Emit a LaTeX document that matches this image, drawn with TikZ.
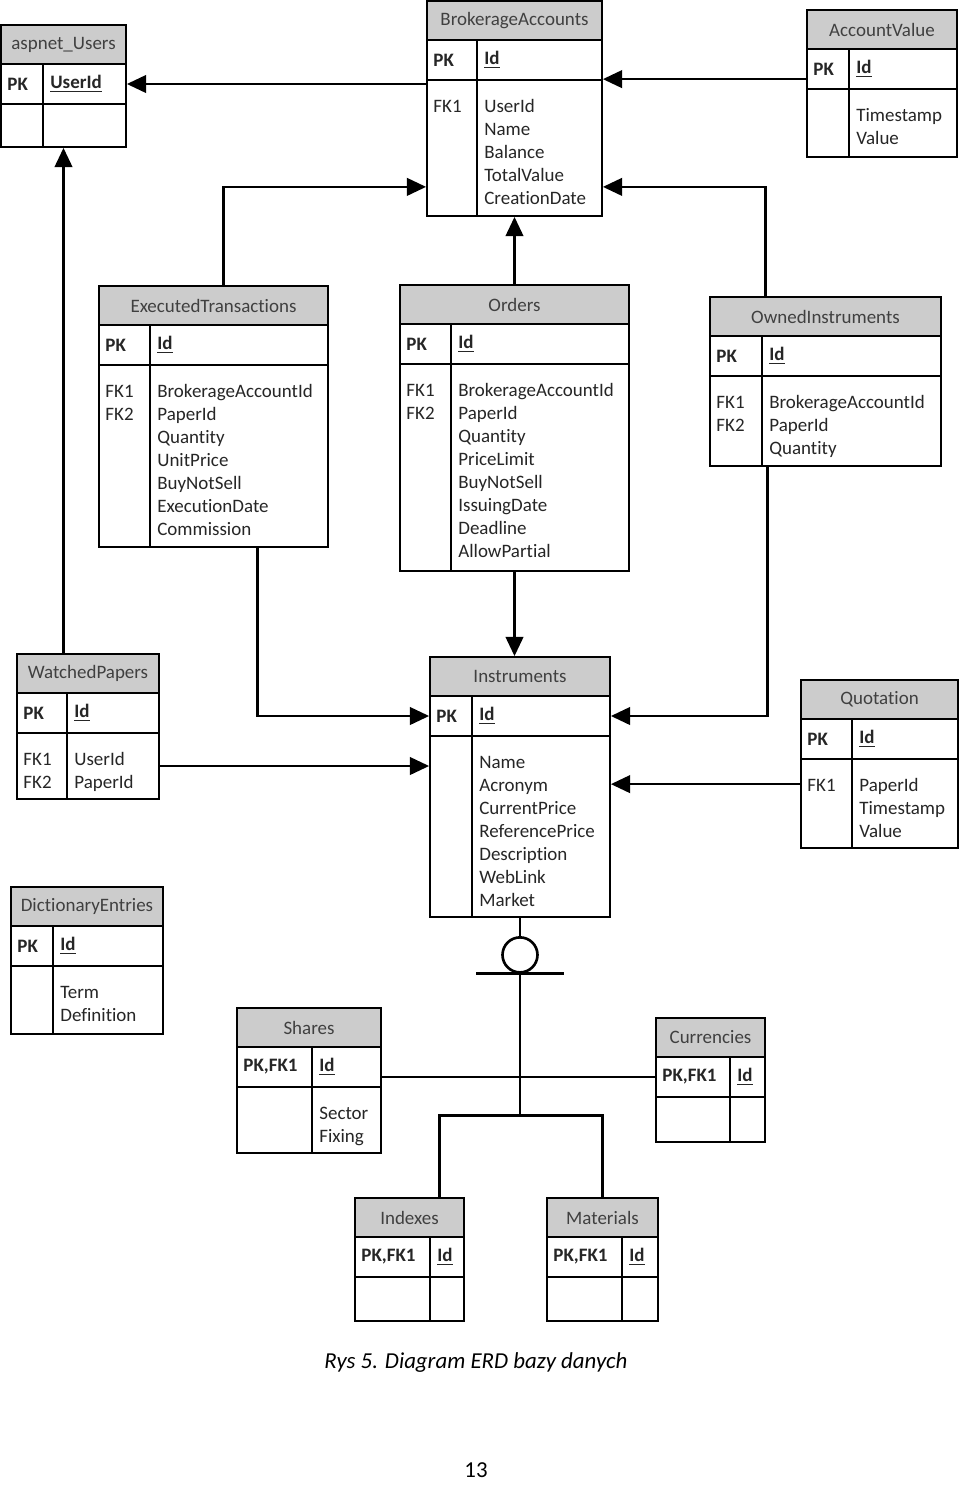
\documentclass[tikz,border=0pt]{standalone}
\usepackage{fontspec}
\setmainfont[Ligatures=NoCommon]{Carlito}
\usetikzlibrary{arrows.meta,fit,calc}

% table frame: name, x1, y1, x2, y2, column divider, title
\newcommand{\erdbox}[7]{%
  \node[tblhead, fit={(#2,#3) (#4,#3+39)}] (#1-h) {};
  \node[tbltitle] (#1-t) at (#1-h.center) {#7};
  \node[tblrow, fit={(#2,#3+39) (#4,#3+79)}] (#1-pk) {};
  \node[tblrow, fit={(#2,#3+79) (#4,#5)}] (#1-b) {};
  \node[tblrow, fit={(#2,#3) (#4,#5)}] (#1) {};
  \coordinate (#1-d) at (#6,#3+39);
  \draw[tblline] (#1-d) -- (#1-d |- #1.south);
}
% table texts: name, key column, key field, fk column, fields
\newcommand{\erdkeys}[5]{%
  \node[keytxt, anchor=west] (#1-pkl) at (#1-pk.west) {\textbf{#2}};
  \node[keytxt, anchor=west] (#1-pkf) at (#1-d |- #1-pk) {\textbf{\underline{#3}}};
  \node[fieldtxt, anchor=north west] (#1-fkl) at (#1-b.north west) {\strut#4};
  \node[fieldtxt, anchor=north west] (#1-fl) at (#1-d |- #1-b.north) {\strut#5};
}

\begin{document}
\begin{tikzpicture}[
  x=0.02cm, y=-0.02cm,
  every node/.style={font=\fontsize{10.8pt}{13.1pt}\selectfont},
  tblhead/.style={draw, line width=1pt, fill=gray!40, inner sep=0pt},
  tbltitle/.style={inner sep=0pt, text=black!75},
  tblrow/.style={draw, line width=1pt, inner sep=0pt},
  tblline/.style={line width=1pt},
  keytxt/.style={inner xsep=0.14cm, inner ysep=0pt, text=black!85},
  fieldtxt/.style={align=left, inner xsep=0.14cm, inner ysep=0.34cm, text=black!85},
  fk/.style={line width=1.5pt, -{Triangle[length=11pt,width=10pt]}},
  rel/.style={line width=1.5pt},
  disc/.style={draw, circle, line width=1.5pt, minimum size=0.7cm, inner sep=0pt},
  caption/.style={font=\fontsize{13pt}{16pt}\selectfont\itshape},
  pageno/.style={font=\fontsize{13pt}{16pt}\selectfont}
]
\useasboundingbox[fill=white] (0,0) rectangle (960,1485);

\erdbox{users}{1}{25}{126}{147}{43}{aspnet\_Users}
\erdkeys{users}{PK}{UserId}{}{}
\erdbox{accounts}{427}{1}{602}{216}{477}{BrokerageAccounts}
\erdkeys{accounts}{PK}{Id}{FK1}{UserId\\Name\\Balance\\TotalValue\\CreationDate}
\erdbox{accvalue}{807}{10}{957}{157}{849}{AccountValue}
\erdkeys{accvalue}{PK}{Id}{}{Timestamp\\Value}
\erdbox{executed}{99}{286}{328}{547}{150}{ExecutedTransactions}
\erdkeys{executed}{PK}{Id}{FK1\\FK2}{BrokerageAccountId\\PaperId\\Quantity\\UnitPrice\\BuyNotSell\\ExecutionDate\\Commission}
\erdbox{orders}{400}{285}{629}{571}{451}{Orders}
\erdkeys{orders}{PK}{Id}{FK1\\FK2}{BrokerageAccountId\\PaperId\\Quantity\\PriceLimit\\BuyNotSell\\IssuingDate\\Deadline\\AllowPartial}
\erdbox{owned}{710}{297}{941}{466}{762}{OwnedInstruments}
\erdkeys{owned}{PK}{Id}{FK1\\FK2}{BrokerageAccountId\\PaperId\\Quantity}
\erdbox{watched}{17}{654}{159}{799}{67}{WatchedPapers}
\erdkeys{watched}{PK}{Id}{FK1\\FK2}{UserId\\PaperId}
\erdbox{instruments}{430}{657}{610}{917}{472}{Instruments}
\erdkeys{instruments}{PK}{Id}{}{Name\\Acronym\\CurrentPrice\\ReferencePrice\\Description\\WebLink\\Market}
\erdbox{quotation}{801}{680}{958}{848}{852}{Quotation}
\erdkeys{quotation}{PK}{Id}{FK1}{PaperId\\Timestamp\\Value}
\erdbox{dictionary}{11}{887}{163}{1034}{53}{DictionaryEntries}
\erdkeys{dictionary}{PK}{Id}{}{Term\\Definition}
\erdbox{shares}{237}{1008}{381}{1153}{312}{Shares}
\erdkeys{shares}{PK,FK1}{Id}{}{Sector\\Fixing}
\erdbox{currencies}{656}{1018}{765}{1142}{730}{Currencies}
\erdkeys{currencies}{PK,FK1}{Id}{}{}
\erdbox{indexes}{355}{1198}{464}{1321}{430}{Indexes}
\erdkeys{indexes}{PK,FK1}{Id}{}{}
\erdbox{materials}{547}{1198}{658}{1321}{622}{Materials}
\erdkeys{materials}{PK,FK1}{Id}{}{}

% foreign keys
\draw[fk] (accounts.west |- users-pk) -- (users-pk.east);
\draw[fk] (accvalue.west |- accounts-b.north) -- (accounts-b.north east);
\draw[fk] ($(executed.north)+(10,0)$) |- ($(accounts.south west)+(0,-30)$);
\draw[fk] (orders.north) -- (accounts.south);
\draw[fk] ($(owned.north)+(-60,0)$) |- ($(accounts.south east)+(0,-30)$);
\draw[fk] (users.south |- watched.north) -- (users.south);
\draw[fk] ($(executed.south)+(44,0)$) |- (instruments-pk.west);
\draw[fk] (orders.south) -- (orders.south |- instruments.north);
\draw[fk] ($(owned.south)+(-58,0)$) |- (instruments-pk.east);
\draw[fk] (watched-b.east) -- (watched-b.east -| instruments.west);
\coordinate (qlink) at ($(quotation-b.north west)+(0,26)$);
\draw[fk] (qlink) -- (qlink -| instruments.east);

% subtypes of instruments
\node[disc] (category) at ($(instruments.south)+(0,37)$) {};
\draw[rel] (instruments.south) -- (category.north);
\draw[rel] ($(category.south)+(-44,0)$) -- ($(category.south)+(44,0)$);
\coordinate (fork) at ($(category.south)+(0,142)$);
\draw[rel] (category.south) -- (fork);
\draw[rel] (shares.east |- currencies-pk) -- (currencies-pk.west);
\draw[rel] ($(indexes.north)+(30,0)$) |- (fork) -| (materials.north);

\node[caption] (cap) at (476,1363) {Rys 5. Diagram ERD bazy danych};
\node[pageno] (page) at (476,1470) {13};
\end{tikzpicture}
\end{document}
